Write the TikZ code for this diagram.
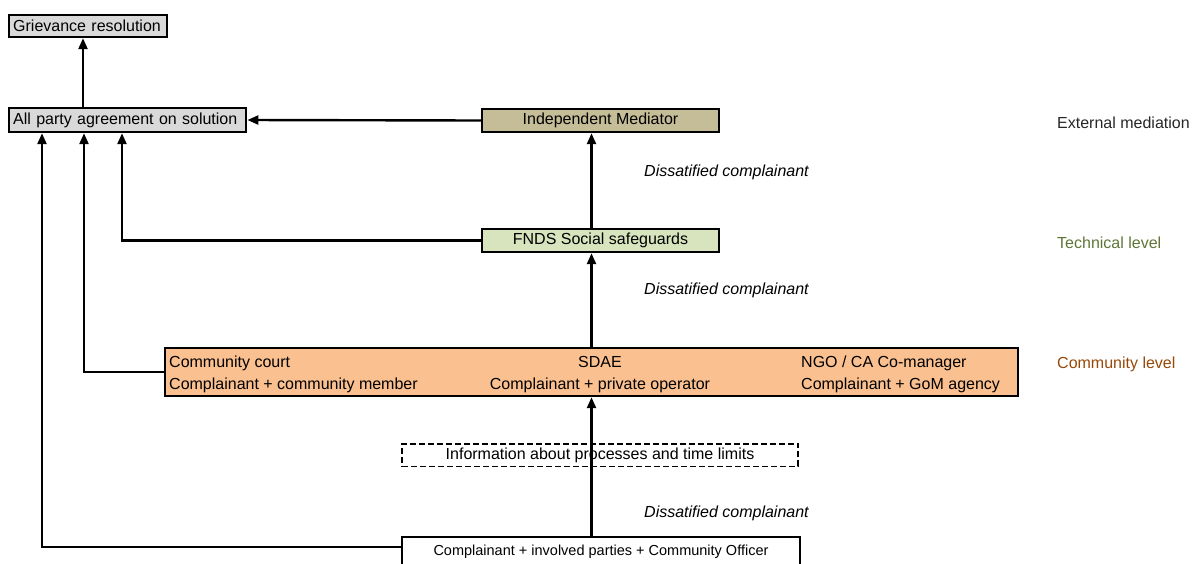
\documentclass[tikz,border=0pt]{standalone}
\usepackage{fontspec}
\setmainfont{Liberation Sans}
\usepackage{xcolor}
\usetikzlibrary{arrows.meta, positioning}

\definecolor{boxgray}{RGB}{217,217,217}
\definecolor{medtan}{RGB}{196,189,151}
\definecolor{techgreen}{RGB}{215,228,189}
\definecolor{commorange}{RGB}{250,192,144}
\definecolor{exttext}{RGB}{38,38,38}
\definecolor{techtext}{RGB}{95,117,55}
\definecolor{commtext}{RGB}{152,72,7}

\begin{document}
\begin{tikzpicture}[
      x=1pt, y=-1pt,
      font=\fontsize{16}{19}\selectfont,
      box/.style={draw, line width=2.4pt, inner sep=4pt, minimum height=23pt},
      outbox/.style={box, fill=boxgray, align=left, anchor=west},
      lvlbox/.style={box, minimum width=237pt},
      txt/.style={inner sep=0pt},
      note/.style={txt, anchor=base west, font=\fontsize{16}{19}\selectfont\itshape},
      lvl/.style={txt, anchor=base west},
      arr/.style={-{Triangle[length=11pt, width=9pt]}, line width=2.4pt}
    ]
    \useasboundingbox (0,0) rectangle (1192,563);
    \clip (0,0) rectangle (1192,563);

    % outcome boxes
    \node[outbox, text width=150pt, minimum height=22pt] (griev) at (8,26) {Grievance resolution};
    \node[outbox, text width=229pt, minimum height=24pt] (agree) at (8,120) {All party agreement on solution};

    % levels
    \node[lvlbox, fill=medtan] (med) at (600.5,120.5) {Independent Mediator};
    \node[lvlbox, fill=techgreen] (fnds) at (600.5,240.5) {FNDS Social safeguards};
    \node[box, fill=commorange, minimum width=853pt, minimum height=48pt] (comm) at (591.5,372) {};
    \node[box, dashed, dash pattern=on 6pt off 3pt, line width=1.9pt, minimum width=396pt, minimum height=22pt] (info) at (600,455) {Information about processes and time limits};
    \node[box, minimum width=398pt, minimum height=30pt, font=\fontsize{14.5}{17}\selectfont] (entry) at (601,552) {Complainant + involved parties + Community Officer};

    % community level entries
    \node[txt, anchor=base west] (court) at (169,367) {Community court};
    \node[txt, anchor=base west] (courtw) at (169,389) {Complainant + community member};
    \node[txt, anchor=base] (sdae) at (600,367) {SDAE};
    \node[txt, anchor=base] (sdaew) at (600,389) {Complainant + private operator};
    \node[txt, anchor=base west] (ngo) at (801,367) {NGO / CA Co-manager};
    \node[txt, anchor=base west] (ngow) at (801,389) {Complainant + GoM agency};

    % side labels
    \node[lvl, text=exttext] (extlbl) at (1057,128) {External mediation};
    \node[lvl, text=techtext] (techlbl) at (1057,248) {Technical level};
    \node[lvl, text=commtext] (commlbl) at (1057,368) {Community level};

    \node[note] (dis1) at (644,176) {Dissatified complainant};
    \node[note] (dis2) at (644,294) {Dissatified complainant};
    \node[note] (dis3) at (644,517) {Dissatified complainant};

    % connectors
    \draw[arr] ([xshift=75pt]agree.north west) -- ([xshift=75pt]griev.south west);
    \draw[arr] (med.west) -- (agree.east);
    \draw[arr] ([xshift=-9pt]fnds.north) -- ([xshift=-9pt]med.south);
    \draw[arr] (comm.north) -- (comm.north |- fnds.south);
    \draw[arr] (entry.north -| comm.south) -- (comm.south);
    \draw[arr] (fnds.west) -| ([xshift=114pt]agree.south west);
    \draw[arr] (comm.west) -| ([xshift=76pt]agree.south west);
    \draw[arr] ([yshift=-11pt]entry.north west) -| ([xshift=34pt]agree.south west);
  \end{tikzpicture}
\end{document}
